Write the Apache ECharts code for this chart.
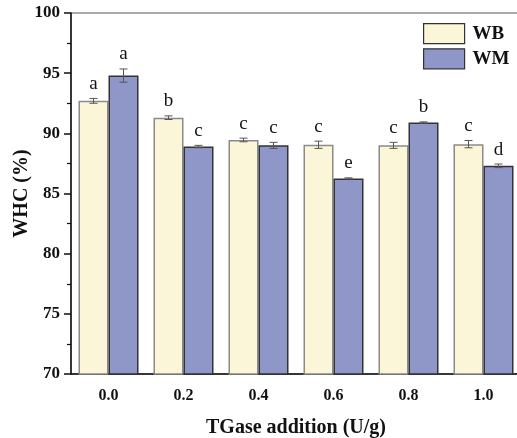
<!DOCTYPE html>
<html>
<head>
<meta charset="utf-8">
<script src="https://cdn.jsdelivr.net/npm/echarts@6/dist/echarts.min.js"></script>
<style>
  html, body { margin: 0; padding: 0; background: #fff; }
  #chart { width: 517px; height: 438px; }
</style>
</head>
<body>
<div id="chart"></div>
<script>
// TGase levels (U/g)
const categories = ['0.0', '0.2', '0.4', '0.6', '0.8', '1.0'];

// Water holding capacity (%), mean and error
const wbValues = [92.7, 91.3, 89.45, 89.05, 89.0, 89.1];
const wbErrors = [0.2, 0.15, 0.15, 0.3, 0.25, 0.3];
const wbLetters = ['a', 'b', 'c', 'c', 'c', 'c'];

const wmValues = [94.8, 88.9, 89.0, 86.25, 90.9, 87.3];
const wmErrors = [0.55, 0.1, 0.25, 0.05, 0.05, 0.15];
const wmLetters = ['a', 'c', 'c', 'e', 'b', 'd'];

const yMin = 70, yMax = 100, yStep = 5;

const SERIF = '"Liberation Serif", "Times New Roman", serif';

const chart = echarts.init(document.getElementById('chart'), null, { renderer: 'canvas' });

// Error bars + significance letters, placed over the matching bar of each group
function errorSeries(values, errors, letters, side) {
  return {
    type: 'custom',
    z: 5,
    silent: true,
    data: values.map((v, i) => [i, v, errors[i]]),
    renderItem: function (params, api) {
      const i = api.value(0), v = api.value(1), e = api.value(2);
      const cw = api.size([1, 0])[0];
      const dx = side * cw * 0.2;
      const top = api.coord([i, v + e]);
      const bot = api.coord([i, v - e]);
      const x = top[0] + dx;
      const cap = 4;
      const style = { stroke: '#555', lineWidth: 1 };
      return {
        type: 'group',
        children: [
          { type: 'line', shape: { x1: x, y1: top[1], x2: x, y2: bot[1] }, style: style },
          { type: 'line', shape: { x1: x - cap, y1: top[1], x2: x + cap, y2: top[1] }, style: style },
          { type: 'line', shape: { x1: x - cap, y1: bot[1], x2: x + cap, y2: bot[1] }, style: style },
          {
            type: 'text',
            style: {
              x: x, y: top[1] - 5,
              text: letters[params.dataIndex],
              fill: '#111',
              font: '19px ' + SERIF,
              textAlign: 'center',
              textVerticalAlign: 'bottom'
            }
          }
        ]
      };
    }
  };
}

const option = {
  animation: false,
  backgroundColor: '#fff',
  grid: {
    left: 71, top: 13, width: 450, height: 361,
    outerBoundsMode: 'none',
    containLabel: false,
    show: true, borderColor: '#555', borderWidth: 1, backgroundColor: 'transparent'
  },
  legend: {
    data: [
      { name: 'WB', itemStyle: { borderColor: '#333', borderWidth: 1.2 } },
      { name: 'WM', itemStyle: { borderColor: '#333', borderWidth: 1.2 } }
    ],
    icon: 'rect',
    orient: 'vertical',
    left: 423, top: 23,
    itemWidth: 41, itemHeight: 20, itemGap: 4,
    textStyle: { fontFamily: SERIF, fontWeight: 'bold', fontSize: 19, color: '#111', padding: [0, 0, 0, 3] },
    padding: 0
  },
  xAxis: {
    type: 'category',
    data: categories,
    name: 'TGase addition (U/g)',
    nameLocation: 'middle',
    nameGap: 44,
    nameMoveOverlap: false,
    nameTextStyle: { fontFamily: SERIF, fontWeight: 'bold', fontSize: 20, color: '#111' },
    axisLine: { lineStyle: { color: '#111', width: 1.5 } },
    axisTick: { alignWithLabel: true, length: 8, lineStyle: { color: '#111', width: 1.5 } },
    axisLabel: { fontFamily: SERIF, fontWeight: 'bold', fontSize: 16, color: '#111', margin: 14 }
  },
  yAxis: {
    type: 'value',
    min: yMin, max: yMax, interval: yStep,
    name: 'WHC (%)',
    nameLocation: 'middle',
    nameGap: 39,
    nameMoveOverlap: false,
    nameTextStyle: { fontFamily: SERIF, fontWeight: 'bold', fontSize: 20, color: '#111' },
    axisLine: { show: true, lineStyle: { color: '#111', width: 1.5 } },
    axisTick: { show: true, length: 7, lineStyle: { color: '#111', width: 1.5 } },
    minorTick: { show: true, splitNumber: 2, length: 4, lineStyle: { color: '#111', width: 1.2 } },
    splitLine: { show: false },
    axisLabel: { fontFamily: SERIF, fontWeight: 'bold', fontSize: 17, color: '#111', margin: 11 }
  },
  series: [
    {
      name: 'WB', type: 'bar', data: wbValues,
      barGap: '0%', barCategoryGap: '20%',
      itemStyle: { color: '#FBF6D7', borderColor: '#8a8a8a', borderWidth: 1.5 }
    },
    {
      name: 'WM', type: 'bar', data: wmValues,
      barGap: '0%', barCategoryGap: '20%',
      itemStyle: { color: '#8F97C8', borderColor: '#333', borderWidth: 1.5 }
    },
    errorSeries(wbValues, wbErrors, wbLetters, -1),
    errorSeries(wmValues, wmErrors, wmLetters, 1)
  ]
};

chart.setOption(option);
</script>
</body>
</html>
